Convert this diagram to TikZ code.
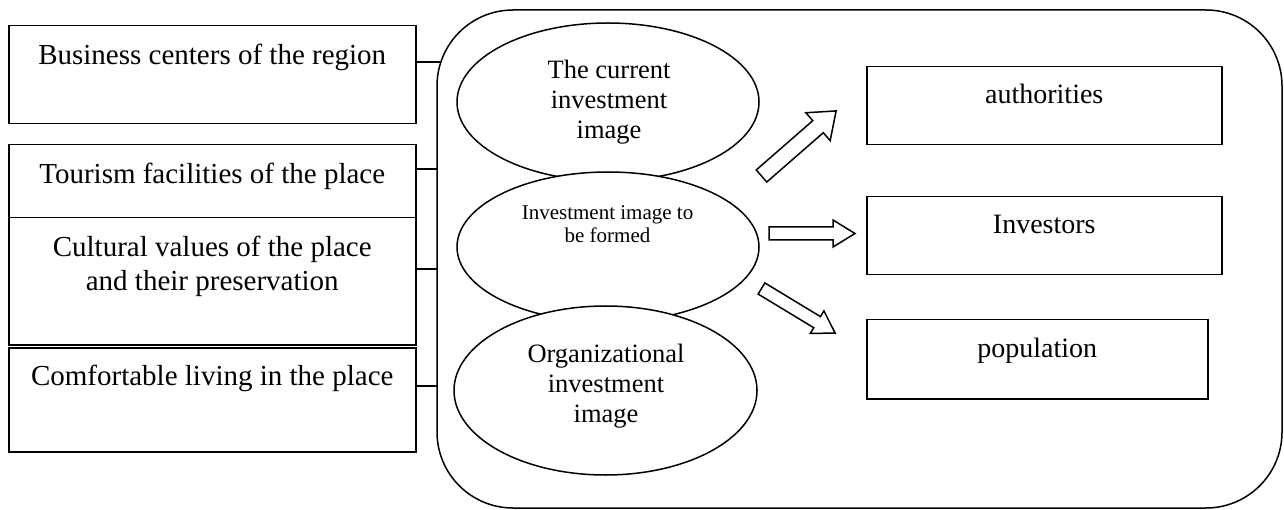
\documentclass[tikz,border=0pt]{standalone}
\usepackage{fontspec}
\setmainfont{Liberation Serif}
\usetikzlibrary{shapes.geometric}
\tikzset{
  lw/.style={line width=1.5pt},
  frame/.style={lw, draw, rounded corners=76pt, inner sep=0pt},
  leftbox/.style={lw, draw, fill=white, inner sep=0pt, minimum width=407pt, anchor=north west, font=\fontsize{29}{34}\selectfont},
  rightbox/.style={lw, draw, fill=white, inner sep=0pt, anchor=north west, font=\fontsize{28}{32}\selectfont},
  oval/.style={lw, draw, fill=white, ellipse, inner sep=0pt, minimum width=302pt},
  ovaltext/.style={anchor=base, inner sep=0pt, font=\fontsize{26.5}{30}\selectfont},
  smalltext/.style={anchor=base, inner sep=0pt, font=\fontsize{21}{23}\selectfont},
  link/.style={lw},
  blockarr/.style={line width=1.5pt, draw, fill=white, line join=miter}
}
\newcommand{\blockarrow}[6]{%
  \draw[blockarr, shift={(#1)}, rotate=#2] (0,-#4) -- ({#3-#6},-#4) -- ({#3-#6},-#5) -- (#3,0) -- ({#3-#6},#5) -- ({#3-#6},#4) -- (0,#4) -- cycle;}
\begin{document}
\begin{tikzpicture}[x=1pt, y=-1pt]
\useasboundingbox (0,0) rectangle (1284,510);
% container
\node[frame, minimum width=845pt, minimum height=498pt] (frame) at (859.5,259) {};
% left boxes
\node[leftbox, text height=39pt, text depth=59pt] (b1) at (8,25) {Business centers of the region};
\node[leftbox, text height=39pt, text depth=34pt] (b2) at (8,144) {Tourism facilities of the place};
\node[leftbox, text height=39pt, text depth=88pt] (b3) at (8,217) {\begin{tabular}[t]{@{}c@{}}Cultural values of the place\\and their preservation\end{tabular}};
\node[leftbox, text height=38pt, text depth=66pt] (b4) at (8,347) {Comfortable living in the place};
% connectors
\coordinate (j1) at (440.5,62);
\coordinate (j2) at (437,169);
\coordinate (j3) at (437,269);
\coordinate (j4) at (437,386);
\draw[link] (b1.east |- j1) -- (j1);
\draw[link] (b2.east |- j2) -- (j2);
\draw[link] (b3.east |- j3) -- (j3);
\draw[link] (b4.east |- j4) -- (j4);
% ellipses
\node[oval, minimum height=158pt] (e1) at (608,102) {};
\node[ovaltext] (e1t) at (609,79) {\begin{tabular}[t]{@{}c@{}}The current\\investment\\image\end{tabular}};
\node[oval, minimum height=150pt] (e2) at (608,247) {};
\node[smalltext] (e2t) at (607.5,220) {\begin{tabular}[t]{@{}c@{}}Investment image to\\be formed\end{tabular}};
\node[oval, minimum width=303pt, minimum height=169pt] (e3) at (605.5,390.5) {};
\node[ovaltext] (e3t) at (606,362) {\begin{tabular}[t]{@{}c@{}}Organizational\\investment\\image\end{tabular}};
% right boxes
\node[rightbox, minimum width=355pt, text height=37pt, text depth=41pt] (r1) at (866,66) {authorities};
\node[rightbox, minimum width=355pt, text height=37pt, text depth=41pt] (r2) at (866,196) {Investors};
\node[rightbox, minimum width=341pt, text height=38pt, text depth=41pt] (r3) at (866,319) {population};
% block arrows
\coordinate (a1) at (761.5,176);
\coordinate (a2) at (769,233.5);
\coordinate (a3) at (761.5,288.5);
\blockarrow{a1}{41.1}{99}{8}{18.5}{24}
\blockarrow{a2}{0}{86}{6.5}{13.5}{22}
\blockarrow{a3}{-31.2}{86}{6.5}{13.2}{21}
\end{tikzpicture}
\end{document}
